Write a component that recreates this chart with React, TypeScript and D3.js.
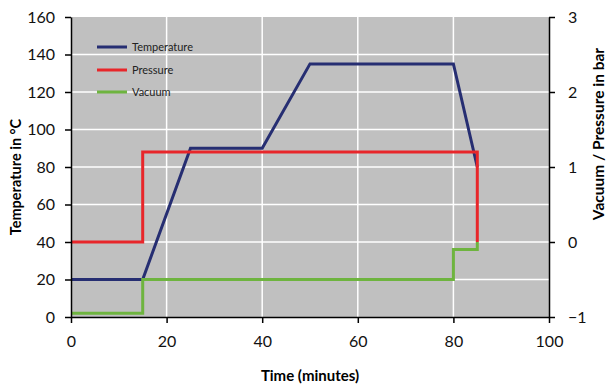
import * as d3 from "d3";
import React, { useRef, useEffect } from "react";

// time (minutes) / temperature (°C)
const tempTime = [0, 15, 25, 40, 50, 80, 85];
const tempValue = [20, 20, 90, 90, 135, 135, 80];
// time / pressure (bar, right axis)
const pressTime = [0, 15, 15, 85, 85];
const pressValue = [0, 0, 1.2, 1.2, 0];
// time / vacuum (bar, right axis)
const vacTime = [0, 15, 15, 80, 80, 85, 85];
const vacValue = [-0.95, -0.95, -0.5, -0.5, -0.1, -0.1, 0];

const xTicks = [0, 20, 40, 60, 80, 100];
const leftTicks = [0, 20, 40, 60, 80, 100, 120, 140, 160];
const rightTicks = [-1, 0, 1, 2, 3];
const legendNames = ["Temperature", "Pressure", "Vacuum"];

const App = () => {
    const ref = useRef(null);

    useEffect(() => {
        const width = 606;
        const height = 385;
        const marginLeft = 71;
        const marginRight = 57;
        const marginTop = 17;
        const marginBottom = 68;
        const font = "Lato, 'Open Sans', sans-serif";
        const colors = ["#262e72", "#e8262a", "#6eb43f"];

        const x = d3.scaleLinear().domain([0, 100]).range([marginLeft, width - marginRight]);
        const y = d3.scaleLinear().domain([0, 160]).range([height - marginBottom, marginTop]);
        const y2 = d3.scaleLinear().domain([-1, 3]).range([height - marginBottom, marginTop]);

        const svg = d3.create("svg")
            .attr("width", width)
            .attr("height", height)
            .style("display", "block");

        // plot background
        svg.append("rect")
            .attr("x", x(0)).attr("y", y(160))
            .attr("width", x(100) - x(0)).attr("height", y(0) - y(160))
            .attr("fill", "#c0c0c0");

        // grid
        svg.append("g")
            .selectAll("line")
            .data(leftTicks.filter(d => d > 0 && d < 160))
            .join("line")
            .attr("x1", x(0)).attr("x2", x(100))
            .attr("y1", d => y(d)).attr("y2", d => y(d))
            .attr("stroke", "#fff").attr("stroke-width", 1.5);
        svg.append("g")
            .selectAll("line")
            .data(xTicks.filter(d => d > 0 && d < 100))
            .join("line")
            .attr("x1", d => x(d)).attr("x2", d => x(d))
            .attr("y1", y(0)).attr("y2", y(160))
            .attr("stroke", "#fff").attr("stroke-width", 1.5);

        // series
        const series = [
            { t: tempTime, v: tempValue, scale: y },
            { t: pressTime, v: pressValue, scale: y2 },
            { t: vacTime, v: vacValue, scale: y2 },
        ];
        series.forEach((s, i) => {
            const line = d3.line<number>()
                .x((_, j) => x(s.t[j]))
                .y(d => s.scale(d));
            svg.append("path")
                .attr("d", line(s.v))
                .attr("fill", "none")
                .attr("stroke", colors[i])
                .attr("stroke-width", 3)
                .attr("stroke-linejoin", "miter");
        });

        // axes
        const styleAxis = g => {
            g.selectAll(".domain").attr("stroke", "#000").attr("stroke-width", 1.5);
            g.selectAll(".tick line").attr("stroke", "#000").attr("stroke-width", 1.5);
            g.selectAll("text").attr("font-family", font).style("font-size", "16px").attr("fill", "#111");
        };
        svg.append("g")
            .attr("transform", `translate(0,${y(0)})`)
            .call(d3.axisBottom(x).tickValues(xTicks).tickSize(6).tickSizeOuter(0).tickPadding(13))
            .call(styleAxis);
        svg.append("g")
            .attr("transform", `translate(${x(0)},0)`)
            .call(d3.axisLeft(y).tickValues(leftTicks).tickSize(6).tickSizeOuter(0).tickPadding(10))
            .call(styleAxis);
        svg.append("g")
            .attr("transform", `translate(${x(100)},0)`)
            .call(d3.axisRight(y2).tickValues(rightTicks).tickFormat(d3.format("d")).tickSize(6).tickSizeOuter(0).tickPadding(13))
            .call(styleAxis);

        // axis titles
        svg.append("text")
            .attr("x", (x(0) + x(100)) / 2).attr("y", 381)
            .attr("text-anchor", "middle")
            .attr("font-family", font).attr("font-weight", "bold").style("font-size", "15px")
            .text("Time (minutes)");
        svg.append("text")
            .attr("transform", `translate(21,${(y(0) + y(160)) / 2 + 10}) rotate(-90)`)
            .attr("text-anchor", "middle")
            .attr("font-family", font).attr("font-weight", "bold").style("font-size", "14.5px")
            .text("Temperature in °C");
        svg.append("text")
            .attr("transform", `translate(604,134) rotate(-90)`)
            .attr("text-anchor", "middle")
            .attr("font-family", font).attr("font-weight", "bold").style("font-size", "15.5px")
            .text("Vacuum / Pressure in bar");

        // legend
        const legend = svg.append("g")
            .selectAll("g")
            .data(legendNames)
            .join("g")
            .attr("transform", (d, i) => `translate(97,${[47, 70, 92][i]})`);
        legend.append("line")
            .attr("x1", 0).attr("x2", 30)
            .attr("stroke", (d, i) => colors[i]).attr("stroke-width", 3);
        legend.append("text")
            .attr("x", 35).attr("dy", "0.35em")
            .attr("font-family", font).style("font-size", "11px")
            .attr("fill", "#222")
            .text(d => d);

        if (ref.current) {
            ref.current.innerHTML = "";
            ref.current.appendChild(svg.node());
        }
    }, []);

    return <div ref={ref} style={{ position: "absolute", left: 0, top: 0 }}></div>;
};

export default App;
